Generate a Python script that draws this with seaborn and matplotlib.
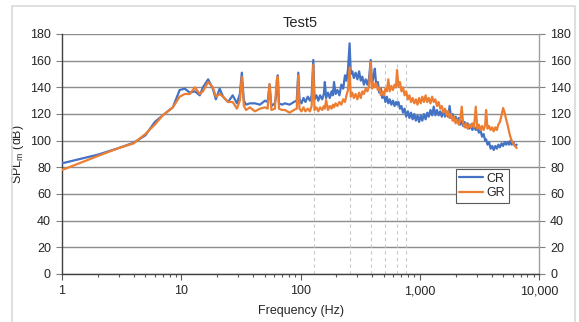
import numpy as np
import pandas as pd
import matplotlib
matplotlib.use("Agg")
import matplotlib.pyplot as plt
import matplotlib.ticker as mticker
from matplotlib.patches import Rectangle
import seaborn as sns

# Frequencies (Hz), shared by both curves
freq = [1, 2, 3, 4, 5, 6, 7, 8.5, 9.7, 10.7, 11.8, 13, 14.3, 15.2, 16.8, 18.4,
        19.5, 21, 22.4, 24.7, 27, 29.3, 31, 32.2, 33.5, 35, 37.6, 41.5, 45.7,
        50.4, 53, 55, 57, 61, 63, 64.5, 66, 70, 74, 81, 88, 93, 95.8,
        98, 102, 106, 110, 115, 120, 124, 128, 131, 136, 141, 146, 152, 157,
        160, 164, 170, 176, 182, 187, 191, 197, 204, 212, 220, 228, 236, 243,
        250, 258, 264, 272, 280, 290, 300, 310, 320, 330, 340, 352, 364, 376,
        388, 398, 410, 420, 432, 445, 458, 472, 486, 500, 515, 530, 545, 560,
        578, 596, 615, 632, 645, 662, 682, 702, 724, 746, 770, 795, 820, 845,
        872, 900, 928, 958, 988, 1020, 1050, 1085, 1120, 1155, 1190, 1230,
        1270, 1310, 1350, 1395, 1440, 1485, 1530, 1580, 1630, 1680, 1730, 1780,
        1830, 1885, 1940, 2000, 2060, 2120, 2180, 2250, 2310, 2380, 2450, 2520,
        2600, 2680, 2760, 2850, 2950, 3040, 3130, 3230, 3330, 3430, 3540, 3600,
        3700, 3810, 3930, 4050, 4170, 4300, 4430, 4560, 4700, 4850, 5000, 5150,
        5300, 5450, 5600, 5750, 5900, 6080, 6300, 6500]

cr = [83, 89.5, 94.5, 98.5, 104, 114, 119, 125, 138, 139, 136, 137, 134, 140,
      146, 139, 131, 139, 133, 129, 134, 128, 135, 151, 130, 127, 128, 128, 127,
      130, 129, 142, 126, 128, 136, 149, 128, 127, 128, 127, 129, 130, 151,
      131, 128, 132, 129, 133, 130, 134, 160.5, 131, 134, 130, 134, 131, 135,
      144, 132, 136, 132, 137, 134, 144, 135, 138, 134, 142, 139, 149, 145,
      153, 173, 150, 152, 147, 151, 146, 152, 145, 148, 142, 146, 142, 147,
      160.5, 143, 148, 154, 141, 144, 136, 139, 132, 135, 129, 133, 128, 131,
      127, 130, 126, 129, 127, 129, 124, 126, 121, 124, 118, 122, 117, 121,
      116, 120, 115, 119, 114, 119, 115, 120, 116, 121, 118, 123,
      119, 125.5, 119, 123, 119, 122, 118, 123, 118, 122, 118, 126,
      117, 120, 115, 118, 114, 117, 112, 115, 111, 114, 110, 113,
      109, 112, 108, 111, 108, 110, 106, 108, 103, 105, 100, 101,
      97, 99, 94, 96, 93, 96, 94, 97, 95, 98, 96, 99,
      97, 99, 97, 100, 97, 99, 96, 97]

gr = [78, 88.5, 94.5, 98, 105, 112, 119, 125, 133, 135, 135, 140, 135, 137,
      144, 140, 133, 135, 133, 129, 129, 124, 130, 148, 126, 123, 125, 122, 124,
      125, 124, 142.5, 123, 124, 145, 148, 124, 123, 123, 121, 123, 124, 149,
      124, 122, 125, 122, 124, 122, 126, 157, 123, 125, 122, 125, 123, 126,
      124, 130.5, 123, 126, 124, 127, 125, 128, 126, 129, 127, 131, 129, 134,
      138, 155, 133, 136, 132, 135, 131, 136, 132, 137, 135, 139, 137, 141,
      159, 139, 143, 140, 143, 138, 140, 134, 137, 134, 139, 137, 146, 137,
      141, 138, 142, 140, 153, 141, 144, 137, 140, 134, 137, 131, 134, 129,
      132, 128, 131, 127, 132, 128, 133, 129, 134, 129, 132, 128,
      133, 129, 131, 126, 129, 124, 126, 121, 124, 119, 122, 117,
      120, 115, 118, 113, 116, 112, 115, 125.5, 113, 110, 113, 109,
      112, 110, 113, 110, 125.5, 109, 112, 108, 111, 108, 112, 123,
      109, 111, 108, 110, 107, 110, 108, 112, 114, 119, 124.5, 121,
      116, 112, 107, 103, 100, 98, 96, 94.5]

series_names = ["CR", "GR"]
harmonics = [129, 258, 387, 516, 645, 774]
y_ticks = [0, 20, 40, 60, 80, 100, 120, 140, 160, 180]
x_ticks = [1, 10, 100, 1000, 10000]
x_labels = ["1", "10", "100", "1,000", "10,000"]

df = pd.DataFrame({
    "freq": freq * 2,
    "spl": cr + gr,
    "curve": [series_names[0]] * len(freq) + [series_names[1]] * len(freq),
})

sns.set_style("white")
plt.rcParams["font.family"] = ["Liberation Sans", "DejaVu Sans"]

fig = plt.figure(figsize=(5.79, 3.22), dpi=100)
fig.patches.append(Rectangle((12 / 579, -0.01), 563 / 579, 1 - 6 / 322 + 0.01,
                             transform=fig.transFigure, fill=False,
                             edgecolor="#d9d9d9", lw=1.2))
ax = fig.add_axes([62 / 579, 1 - 274 / 322, 477 / 579, 240 / 322])

# dashed markers at the harmonics of ~129 Hz
ax.vlines(harmonics, 0, 160, colors="#c8c8c8", linestyles=(0, (3, 3)),
          lw=0.8, zorder=1)

sns.lineplot(data=df, x="freq", y="spl", hue="curve",
             palette=["#4472C4", "#ED7D31"], estimator=None, sort=False,
             lw=1.6, ax=ax, zorder=3)

ax.set_xscale("log")
ax.set_xlim(1, 10000)
ax.set_ylim(0, 180)
ax.set_xticks(x_ticks)
ax.set_xticklabels(x_labels)
ax.xaxis.set_minor_locator(mticker.LogLocator(base=10, subs=np.arange(2, 10)))
ax.xaxis.set_minor_formatter(mticker.NullFormatter())
ax.set_yticks(y_ticks)
ax.yaxis.grid(True, color="#8c8c8c", lw=1)
ax.set_axisbelow(True)

ax.tick_params(axis="y", which="both", left=True, right=True,
               labelleft=True, labelright=True, length=4, width=0.8,
               color="#808080", labelsize=9, pad=4)
ax.tick_params(axis="x", which="major", bottom=True, length=4, width=0.8,
               color="#595959", labelsize=9, pad=4)
ax.tick_params(axis="x", which="minor", bottom=True, length=2.5, width=0.8,
               color="#595959")

ax.spines["top"].set_visible(False)
ax.spines["left"].set_color("#404040")
ax.spines["bottom"].set_color("#404040")
ax.spines["right"].set_color("#a0a0a0")
for s in ax.spines.values():
    s.set_linewidth(1)

ax.set_title("Test5", fontsize=10.5, pad=5)
ax.set_xlabel("Frequency (Hz)", fontsize=9, labelpad=6)
ax.set_ylabel(r"SPL$_\mathregular{m}$ (dB)", fontsize=9, labelpad=3)

leg = ax.legend(loc="upper left", bbox_to_anchor=(0.825, 0.4375),
                borderaxespad=0, fontsize=9, handlelength=1.9,
                fancybox=False, framealpha=1, edgecolor="#595959",
                borderpad=0.3, labelspacing=0.2, handletextpad=0.3)
leg.get_frame().set_linewidth(0.8)
for line in leg.get_lines():
    line.set_linewidth(1.6)

fig.savefig("out.png", dpi=100)
